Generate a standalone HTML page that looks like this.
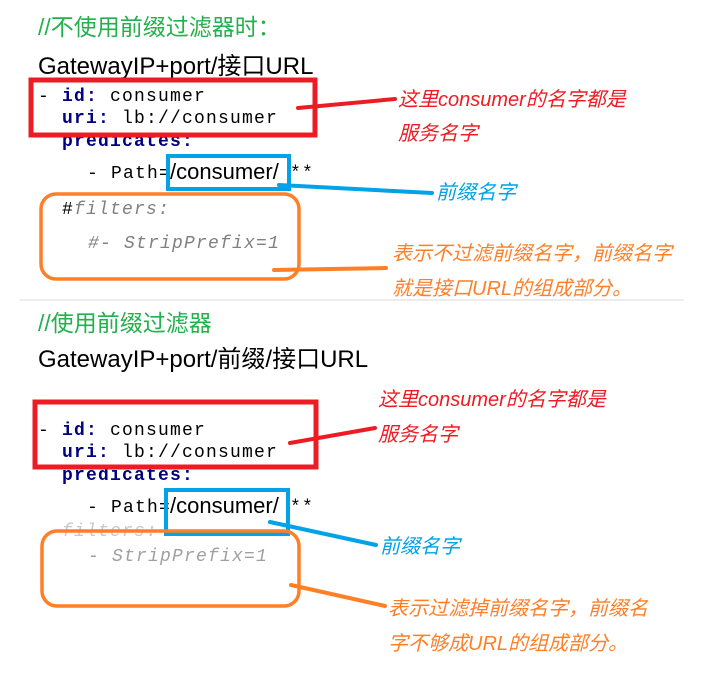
<!DOCTYPE html>
<html><head><meta charset="utf-8"><style>
body{margin:0;width:703px;height:673px;background:#fff;position:relative;overflow:hidden}
.t{position:absolute;white-space:nowrap;line-height:1}
.s{font-family:"Liberation Sans","Noto Sans CJK SC",sans-serif}
.m{font-family:"Liberation Mono",monospace;font-size:18px;letter-spacing:1.2px;color:#000}
.k{color:#000080;font-weight:bold}
.g{color:#808080;font-style:italic}
.g1{color:#22b14c;font-size:23px}
.h{color:#000;font-size:24px}
.r{color:#ed1c24;font-size:20px;font-style:italic}
.b{color:#00a2e8;font-size:20px;font-style:italic}
.o{color:#ff7f27;font-size:20px;font-style:italic}
.cs{font-size:22px;color:#000}
svg{position:absolute;left:0;top:0}
</style></head><body>
<div class="t s g1" style="left:38px;top:16px">//不使用前缀过滤器时：</div>
<div class="t s h" style="left:38px;top:55px">GatewayIP+port/接口URL</div>
<div class="t m" style="left:38px;top:88px">- <span class="k">id:</span> consumer</div>
<div class="t m" style="left:62px;top:110px"><span class="k">uri:</span> lb://consumer</div>
<div class="t m" style="left:62px;top:133px"><span class="k">predicates:</span></div>
<div class="t m" style="left:87px;top:165px">- Path=</div>
<div class="t s cs" style="left:170px;top:161px">/consumer/</div>
<div class="t m" style="left:290px;top:165px">**</div>
<div class="t m" style="left:62px;top:201px">#<span class="g">filters:</span></div>
<div class="t m g" style="left:88px;top:235px">#- StripPrefix=1</div>
<div class="t s r" style="left:398px;top:90px">这里consumer的名字都是</div>
<div class="t s r" style="left:398px;top:124px">服务名字</div>
<div class="t s b" style="left:436px;top:183px">前缀名字</div>
<div class="t s o" style="left:392px;top:244px">表示不过滤前缀名字，前缀名字</div>
<div class="t s o" style="left:392px;top:279px">就是接口URL的组成部分。</div>

<div class="t s g1" style="left:38px;top:312px">//使用前缀过滤器</div>
<div class="t s h" style="left:38px;top:348px">GatewayIP+port/前缀/接口URL</div>
<div class="t m" style="left:38px;top:422px">- <span class="k">id:</span> consumer</div>
<div class="t m" style="left:62px;top:444px"><span class="k">uri:</span> lb://consumer</div>
<div class="t m" style="left:62px;top:467px"><span class="k">predicates:</span></div>
<div class="t m" style="left:87px;top:499px">- Path=</div>
<div class="t s cs" style="left:170px;top:495px">/consumer/</div>
<div class="t m" style="left:290px;top:499px">**</div>
<div class="t m g" style="left:62px;top:523px;color:#c8c8c8">filters:</div>
<div class="t m g" style="left:88px;top:548px;color:#a0a0a0">- StripPrefix=1</div>
<div class="t s r" style="left:378px;top:390px">这里consumer的名字都是</div>
<div class="t s r" style="left:378px;top:425px">服务名字</div>
<div class="t s b" style="left:380px;top:537px">前缀名字</div>
<div class="t s o" style="left:388px;top:599px">表示过滤掉前缀名字，前缀名</div>
<div class="t s o" style="left:388px;top:634px">字不够成URL的组成部分。</div>

<svg width="703" height="673">
<g fill="none" stroke-linecap="round">
<rect x="31" y="80" width="284" height="55" stroke="#ed1c24" stroke-width="5"/>
<rect x="168" y="156" width="121" height="33" stroke="#00a2e8" stroke-width="4"/>
<rect x="41" y="194" width="258" height="85" rx="15" stroke="#ff7f27" stroke-width="3.5"/>
<line x1="298" y1="108" x2="395" y2="99" stroke="#ed1c24" stroke-width="4"/>
<line x1="279" y1="185" x2="432" y2="193" stroke="#00a2e8" stroke-width="4"/>
<line x1="274" y1="270" x2="386" y2="268" stroke="#ff7f27" stroke-width="4"/>
<line x1="20" y1="300" x2="683" y2="300" stroke="#d8d8d8" stroke-width="1"/>
<rect x="35" y="402" width="281" height="65" stroke="#ed1c24" stroke-width="5"/>
<rect x="166" y="490" width="122" height="44" stroke="#00a2e8" stroke-width="4"/>
<rect x="42" y="531" width="257" height="75" rx="15" stroke="#ff7f27" stroke-width="3.5"/>
<line x1="290" y1="443" x2="375" y2="428" stroke="#ed1c24" stroke-width="4"/>
<line x1="270" y1="522" x2="376" y2="545" stroke="#00a2e8" stroke-width="4"/>
<line x1="291" y1="585" x2="385" y2="606" stroke="#ff7f27" stroke-width="4"/>
</g></svg>
</body></html>
